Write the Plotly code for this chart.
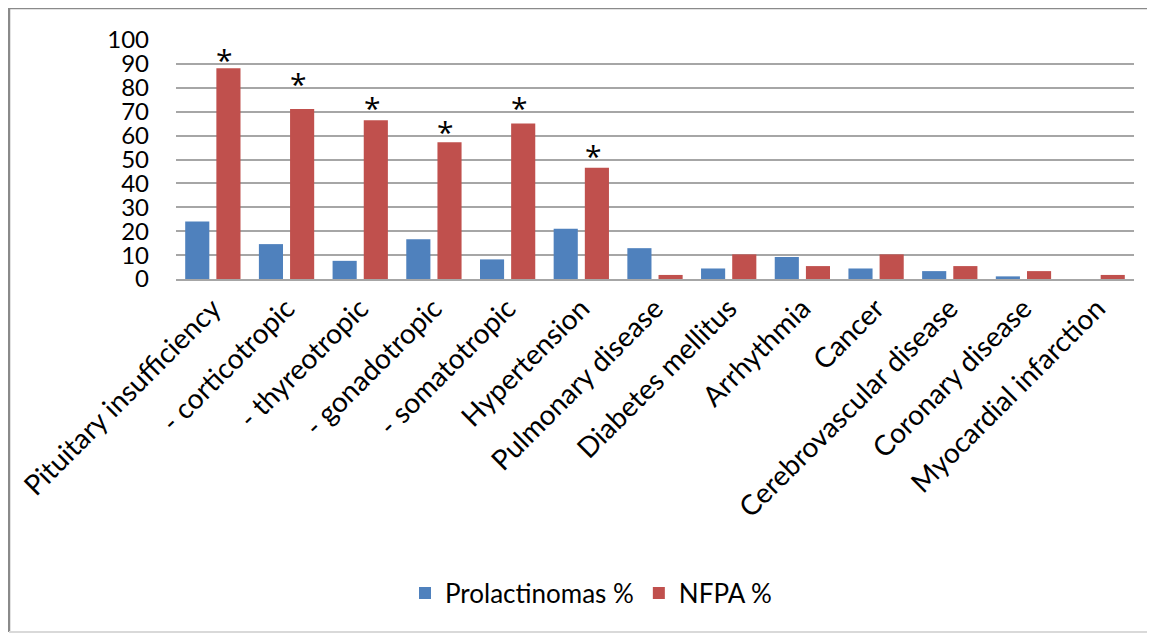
import plotly.graph_objects as go

categories = [
    "Pituitary insufficiency", "- corticotropic", "- thyreotropic", "- gonadotropic",
    "- somatotropic", "Hypertension", "Pulmonary disease", "Diabetes mellitus",
    "Arrhythmia", "Cancer", "Cerebrovascular disease", "Coronary disease",
    "Myocardial infarction",
]
prolactinomas = [24.1, 14.6, 7.6, 16.6, 8.2, 21.0, 12.9, 4.4, 9.2, 4.4, 3.3, 1.1, 0.0]
nfpa = [88.2, 71.1, 66.4, 57.2, 65.1, 46.5, 1.7, 10.3, 5.4, 10.3, 5.4, 3.3, 1.7]
star_categories = categories[:6]
star_y = [95, 85, 75, 65, 75, 55]

# The page body adds an 8px offset; internal coordinates are screen - 8.
OFF = 8
W, H = 1155, 633
L, T = 176 - OFF, 40 - OFF
pw, ph = 958, 239
R = W - L - pw
B = H - T - ph

def px_x(p):
    return (p - OFF - L) / pw

def px_y(p):
    return (T + ph - (p - OFF)) / ph

FONT = "Lato, 'Open Sans', sans-serif"

fig = go.Figure()
fig.add_trace(go.Bar(x=categories, y=prolactinomas, name="Prolactinomas %",
                     marker=dict(color="#4F81BD", line=dict(width=0))))
fig.add_trace(go.Bar(x=categories, y=nfpa, name="NFPA %",
                     marker=dict(color="#C0504D", line=dict(width=0))))

for c, yv in zip(star_categories, star_y):
    fig.add_annotation(x=c, y=yv, text="*", showarrow=False, xref="x", yref="y",
                       xshift=12, yshift=-8, yanchor="middle",
                       font=dict(family="'Open Sans', sans-serif", size=30, color="#000000"))

# chart frame (top/left dark, bottom light)
fig.add_shape(type="line", xref="paper", yref="paper",
              x0=px_x(9), x1=px_x(1170), y0=px_y(8), y1=px_y(8),
              line=dict(color="#8a8a8a", width=2.5))
fig.add_shape(type="line", xref="paper", yref="paper",
              x0=px_x(9), x1=px_x(9), y0=px_y(8), y1=px_y(632),
              line=dict(color="#8a8a8a", width=2.5))
fig.add_shape(type="line", xref="paper", yref="paper",
              x0=px_x(9), x1=px_x(1170), y0=px_y(632), y1=px_y(632),
              line=dict(color="#d9d9d9", width=2))

fig.update_layout(
    width=W, height=H,
    margin=dict(l=L, r=R, t=T, b=B, autoexpand=False),
    plot_bgcolor="white", paper_bgcolor="white",
    barmode="group", bargap=0.154, bargroupgap=0.226,
    font=dict(family=FONT, color="#000000"),
    showlegend=True,
    legend=dict(orientation="h", x=px_x(591), xanchor="center",
                y=px_y(593), yanchor="middle",
                font=dict(family=FONT, size=26, color="#000000"),
                itemwidth=30, traceorder="normal"),
    xaxis=dict(tickangle=-45, tickfont=dict(family=FONT, size=28, color="#000000"),
               showline=True, linecolor="#a6a6a6", linewidth=2,
               ticks="", showgrid=False),
    yaxis=dict(range=[0, 100], dtick=10, tick0=0,
               tickfont=dict(family=FONT, size=24, color="#000000"),
               showgrid=True, gridcolor="#a6a6a6", gridwidth=2,
               zeroline=False, showline=False, ticks="",
               ticklabelstandoff=26),
)

fig.write_html("out.html")
